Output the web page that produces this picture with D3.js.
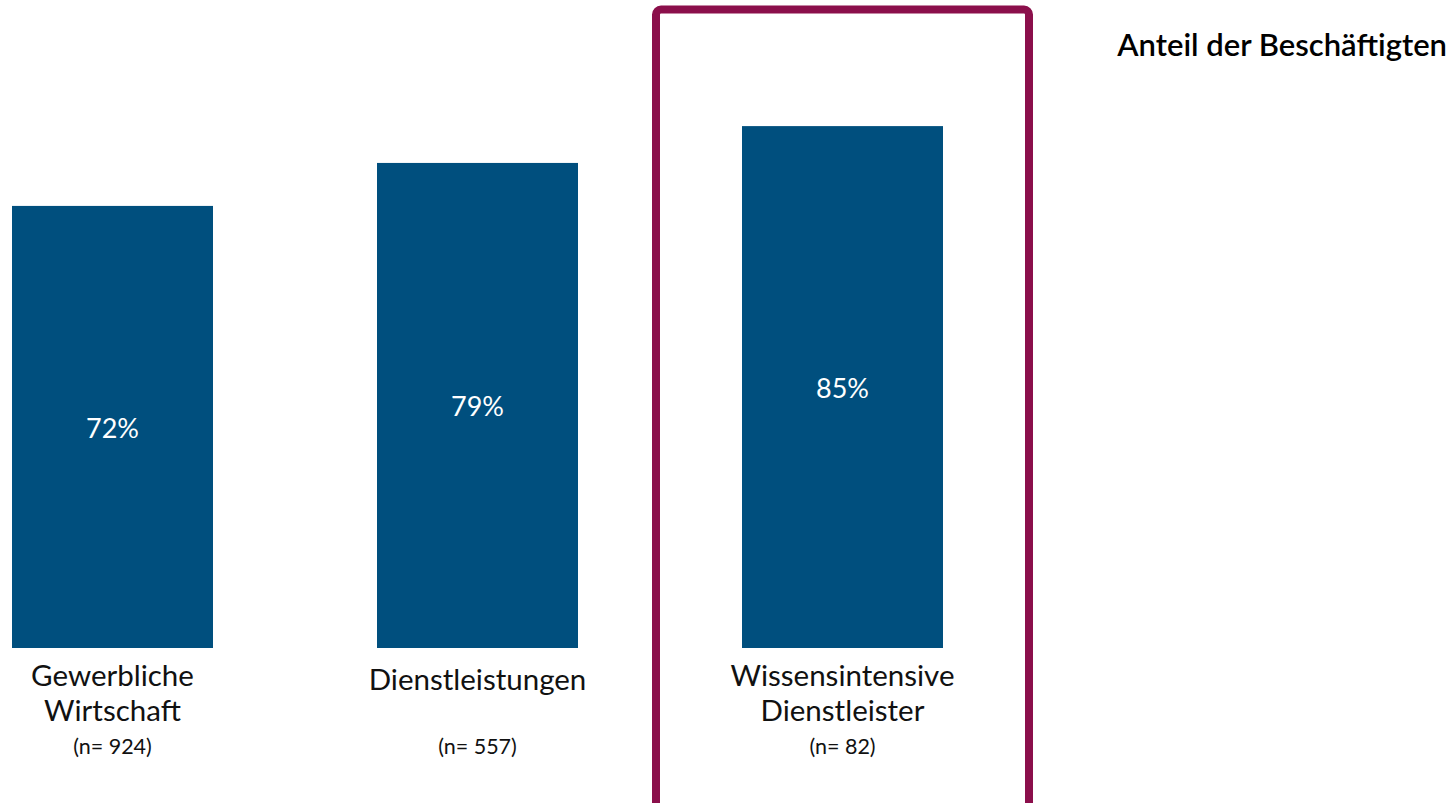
<!DOCTYPE html>
<html><head><meta charset="utf-8">
<script src="https://cdn.jsdelivr.net/npm/d3@7"></script>
<style>html,body{margin:0;padding:0;background:#fff;}svg{display:block;}</style>
</head><body>
<svg id="c" width="1450" height="803"></svg>
<script>
const categories = ["Gewerbliche Wirtschaft", "Dienstleistungen", "Wissensintensive Dienstleister"];
const labelLines = [["Gewerbliche", "Wirtschaft"], ["Dienstleistungen"], ["Wissensintensive", "Dienstleister"]];
const sampleSizes = ["(n= 924)", "(n= 557)", "(n= 82)"];
const values = [72, 79, 85];
const highlighted = "Wissensintensive Dienstleister";
const title = "Anteil der Beschäftigten";

const svg = d3.select("#c");
const font = "Lato, 'Noto Sans', sans-serif";

// band width ~201, step 365, first bar at x=12
const xb = d3.scaleBand().domain(categories).range([12, 12 + 365 * 2 + 201]).paddingInner(164 / 365).paddingOuter(0);
const y = d3.scaleLinear().domain([0, 100]).range([648, 34]);

// highlight frame
const hi = xb(highlighted);
svg.append("rect")
  .attr("x", hi - 86).attr("y", 9.5)
  .attr("width", xb.bandwidth() + 172).attr("height", 830)
  .attr("rx", 5).attr("fill", "none")
  .attr("stroke", "#8b0f4b").attr("stroke-width", 8);

svg.selectAll("rect.bar").data(categories).join("rect")
  .attr("class", "bar")
  .attr("x", d => xb(d)).attr("width", xb.bandwidth())
  .attr("y", (d, i) => y(values[i])).attr("height", (d, i) => y(0) - y(values[i]))
  .attr("fill", "#004f7e");

svg.selectAll("text.val").data(categories).join("text")
  .attr("class", "val")
  .attr("x", d => xb(d) + xb.bandwidth() / 2)
  .attr("y", (d, i) => (y(values[i]) + y(0)) / 2 + 11)
  .attr("text-anchor", "middle").attr("fill", "#fff")
  .attr("font-family", font).attr("font-size", 27)
  .text((d, i) => values[i] + "%");

categories.forEach((c, i) => {
  const cx = xb(c) + xb.bandwidth() / 2;
  const lines = labelLines[i];
  const t = svg.append("text").attr("text-anchor", "middle")
    .attr("font-family", font).attr("font-size", 29.5).attr("fill", "#111");
  const startY = lines.length === 1 ? 690 : 686;
  lines.forEach((l, j) => t.append("tspan").attr("x", cx).attr("y", startY + j * 35).text(l));
  svg.append("text").attr("x", cx).attr("y", 754).attr("text-anchor", "middle")
    .attr("font-family", font).attr("font-size", 21.5).attr("fill", "#111").text(sampleSizes[i]);
});

svg.append("text").attr("x", 1447).attr("y", 56).attr("text-anchor", "end")
  .attr("font-family", font).attr("font-size", 31).attr("font-weight", 600).attr("fill", "#000")
  .text(title);
</script>
</body></html>
